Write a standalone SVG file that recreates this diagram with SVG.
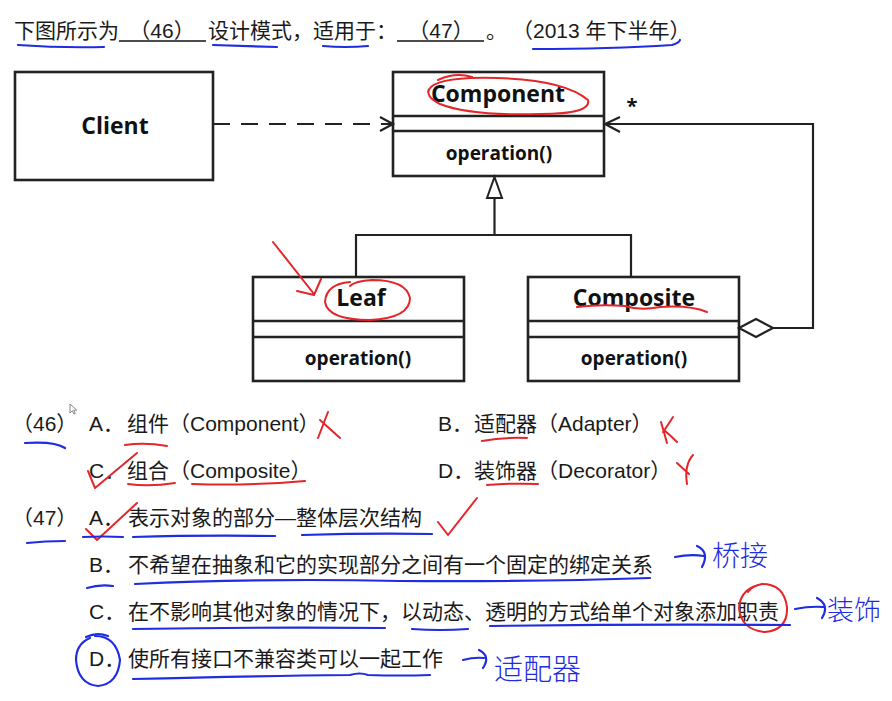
<svg xmlns="http://www.w3.org/2000/svg" width="892" height="701" viewBox="0 0 892 701">
<style>
.box{fill:#fff;stroke:#222;stroke-width:2.6}
.ln{fill:none;stroke:#222;stroke-width:2.2}
.uml{font-family:"Open Sans","DejaVu Sans",sans-serif;font-weight:bold;fill:#111;text-anchor:middle}
.cls{font-size:23px}
.op{font-size:19px}
.t{font-family:"Liberation Sans","Noto Sans CJK SC",sans-serif;font-size:21px;fill:#1a1a1a}
.red{fill:none;stroke:#e3262a;stroke-width:2;stroke-linecap:round;stroke-linejoin:round}
.blue{fill:none;stroke:#1f2de0;stroke-width:2.2;stroke-linecap:round;stroke-linejoin:round}
.hw{font-family:"Noto Sans CJK SC",sans-serif;fill:#1f2de0;font-weight:300}
</style>
<rect width="892" height="701" fill="#fff"/>

<!-- Title -->
<g id="title">
<text class="t" x="14" y="38">下图所示为</text>
<text class="t" x="162" y="38" text-anchor="middle">（46）</text>
<line x1="119" y1="41" x2="206" y2="41" stroke="#111" stroke-width="1.5"/>
<text class="t" x="208" y="38">设计模式，适用于：</text>
<text class="t" x="441" y="38" text-anchor="middle">（47）</text>
<line x1="397" y1="41" x2="484" y2="41" stroke="#111" stroke-width="1.5"/>
<text class="t" x="486" y="38">。</text>
<text class="t" x="512" y="38">（2013 年下半年）</text>
</g>

<!-- Nodes -->
<g id="client">
<rect class="box" x="15" y="72" width="198" height="108"/>
<text class="uml cls" x="115" y="134">Client</text>
</g>
<g id="component">
<rect class="box" x="393" y="72" width="211" height="104"/>
<line class="ln" x1="393" y1="116" x2="604" y2="116" style="stroke-width:2.6"/>
<line class="ln" x1="393" y1="131" x2="604" y2="131" style="stroke-width:2.6"/>
<text class="uml cls" x="498" y="102">Component</text>
<text class="uml op" x="499" y="160">operation()</text>
</g>
<g id="leaf">
<rect class="box" x="253" y="277" width="211" height="104"/>
<line class="ln" x1="253" y1="321" x2="464" y2="321" style="stroke-width:2.6"/>
<line class="ln" x1="253" y1="337" x2="464" y2="337" style="stroke-width:2.6"/>
<text class="uml cls" x="361" y="306">Leaf</text>
<text class="uml op" x="358" y="365">operation()</text>
</g>
<g id="composite">
<rect class="box" x="528" y="277" width="211" height="104"/>
<line class="ln" x1="528" y1="321" x2="739" y2="321" style="stroke-width:2.6"/>
<line class="ln" x1="528" y1="337" x2="739" y2="337" style="stroke-width:2.6"/>
<text class="uml cls" x="634" y="306">Composite</text>
<text class="uml op" x="634" y="365">operation()</text>
</g>

<!-- Connectors -->
<g id="connectors">
<line class="ln" x1="213" y1="124" x2="391" y2="124" stroke-dasharray="17 11"/>
<polyline class="ln" points="380,117 393,124 380,131"/>
<polygon points="494.5,177 502,198 487,198" fill="#fff" stroke="#222" stroke-width="2"/>
<polyline class="ln" points="494.5,198 494.5,235"/>
<polyline class="ln" points="356,277 356,235 631,235 631,277"/>
<polygon points="739,328 756,319 773,328 756,337" fill="#fff" stroke="#222" stroke-width="2.2"/>
<polyline class="ln" points="773,328 813,328 813,124 605,124"/>
<polyline class="ln" points="620,117 605,124 620,132"/>
<text x="632" y="113" font-family="Open Sans, sans-serif" font-weight="bold" font-size="20" fill="#111" text-anchor="middle">*</text>
</g>

<!-- Question options -->
<g id="q46">
<text class="t" x="12" y="431">（46）</text>
<text class="t" x="89" y="431">A．</text>
<text class="t" x="127" y="431">组件（Component）</text>
<text class="t" x="438" y="431">B．</text>
<text class="t" x="474" y="431">适配器（Adapter）</text>
<text class="t" x="89" y="478">C．</text>
<text class="t" x="127" y="478">组合（Composite）</text>
<text class="t" x="438" y="478">D．</text>
<text class="t" x="474" y="478">装饰器（Decorator）</text>
</g>
<g id="q47">
<text class="t" x="12" y="525">（47）</text>
<text class="t" x="89" y="525">A．</text>
<text class="t" x="128" y="525">表示对象的部分—整体层次结构</text>
<text class="t" x="89" y="572">B．</text>
<text class="t" x="128" y="572">不希望在抽象和它的实现部分之间有一个固定的绑定关系</text>
<text class="t" x="89" y="619">C．</text>
<text class="t" x="128" y="619">在不影响其他对象的情况下，以动态、透明的方式给单个对象添加职责</text>
<text class="t" x="89" y="666">D．</text>
<text class="t" x="128" y="666">使所有接口不兼容类可以一起工作</text>
</g>

<!-- cursor -->
<path d="M70 404 L70 413 L72.3 410.8 L74 414 L75.3 413.4 L73.7 410.3 L76.8 410.1 Z" fill="#fff" stroke="#777" stroke-width="0.9"/>

<!-- Handwritten annotations -->
<g id="annotations-red">
<path class="red" d="M438 80 Q455 72 472 77 M428 92 Q430 80 470 78 Q560 76 588 100 Q592 114 540 114 Q470 116 440 104 Q424 96 430 88"/>
<path class="red" d="M273 242 L314 294 M297 291 L314 295 L321 279"/>
<path class="red" d="M350 282 Q326 284 325 302 Q328 320 370 320 Q410 318 410 298 Q406 280 372 280 Q355 281 350 286"/>
<path class="red" d="M577 307 Q600 304 625 306 Q640 311 660 307 Q690 305 707 312"/>
<path class="red" d="M328 412 L318 438 M320 420 L340 438"/>
<path class="red" d="M125 445 Q145 442 167 446"/>
<path class="red" d="M88 471 L95 488 L137 453"/>
<path class="red" d="M128 484 Q150 487 175 483"/>
<path class="red" d="M192 484 Q250 486 305 481"/>
<path class="red" d="M661 422 Q664 432 667 443 M673 417 Q666 428 663 432 M664 430 Q671 436 677 442"/>
<path class="red" d="M482 441 Q505 437 527 438"/>
<path class="red" d="M693 455 Q684 465 687 484 M677 463 L689 474"/>
<path class="red" d="M487 485 Q512 483 538 484"/>
<path class="red" d="M86 529 L97 540 L137 503"/>
<path class="red" d="M438 522 L448 535 L477 498"/>
<path class="red" d="M755 586 Q740 592 739 608 Q741 630 765 632 Q788 630 787 607 Q784 584 762 584 Q752 586 748 592"/>
</g>
<g id="annotations-blue">
<path class="blue" d="M18 45 Q60 48 104 47"/>
<path class="blue" d="M213 45 Q245 46 277 47"/>
<path class="blue" d="M323 46 Q345 48 368 46"/>
<path class="blue" d="M533 49 Q610 49 672 45 Q679 43 680 40"/>
<path class="blue" d="M25 443 Q55 441 65 448"/>
<path class="blue" d="M27 543 Q45 541 65 541"/>
<path class="blue" d="M83 537 Q103 536 123 537"/>
<path class="blue" d="M133 537 Q200 535 275 536"/>
<path class="blue" d="M302 535 Q370 533 432 534"/>
<path class="blue" d="M87 588 Q100 584 113 586"/>
<path class="blue" d="M135 584 Q260 578 400 581 Q530 582 650 578"/>
<path class="blue" d="M86 637 Q97 632 108 636"/>
<path class="blue" d="M133 629 Q260 627 385 628"/>
<path class="blue" d="M412 629 Q440 631 468 629"/>
<path class="blue" d="M490 626 Q640 624 790 625"/>
<path class="blue" d="M90 638 Q76 644 76 660 Q78 684 98 686 Q118 684 120 660 Q116 636 95 636"/>
<path class="blue" d="M133 679 Q250 676 350 675 Q360 672 368 675 Q400 676 430 675"/>
<path class="blue" d="M675 557 Q690 554 704 556 M697 546 Q710 552 702 567"/>
<path class="blue" d="M795 609 Q810 606 823 607 M817 598 Q830 605 822 618"/>
<path class="blue" d="M463 660 Q474 657 484 658 M479 650 Q491 656 483 668"/>
<text class="hw" x="712" y="566" font-size="28">桥接</text>
<text class="hw" x="827" y="620" font-size="27">装饰</text>
<text class="hw" x="494" y="680" font-size="29">适配器</text>
</g>
</svg>
